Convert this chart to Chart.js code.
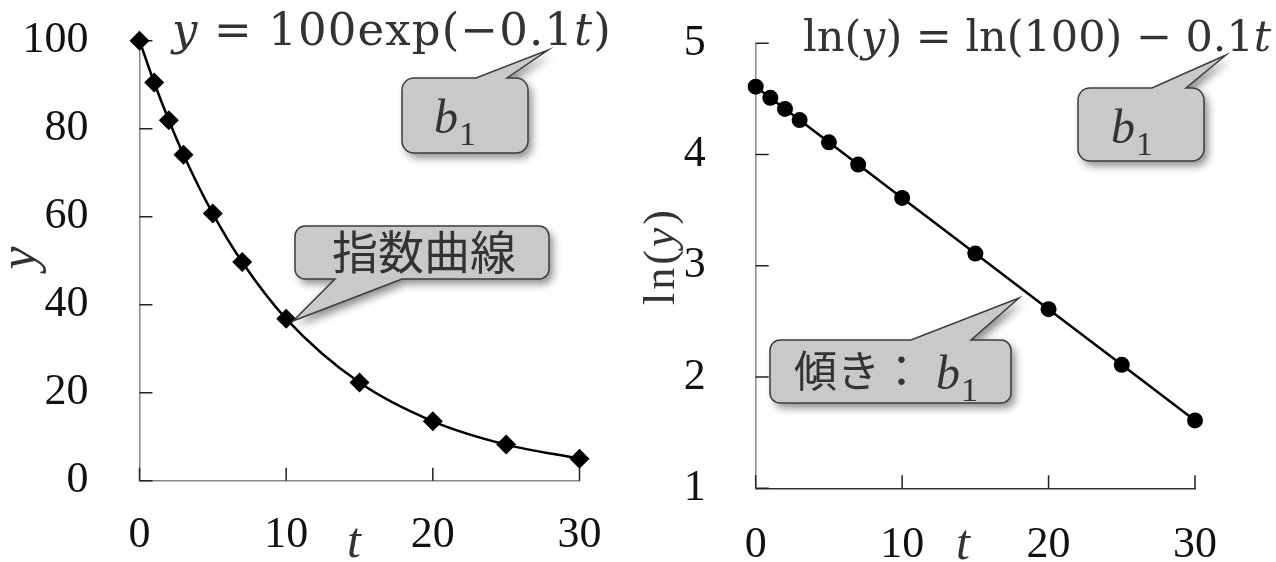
<!DOCTYPE html>
<html><head><meta charset="utf-8">
<script src="https://cdn.jsdelivr.net/npm/chart.js@4/dist/chart.umd.min.js"></script>
<style>
html,body{margin:0;padding:0;background:#fff;width:1276px;height:562px;overflow:hidden}
canvas{position:absolute;top:0}
#c1{left:0}#c2{left:640px}
</style></head><body>
<canvas id="c1" width="640" height="562"></canvas>
<canvas id="c2" width="636" height="562"></canvas>
<script>
const T = [0, 1, 2, 3, 5, 7, 10, 15, 20, 25, 30];
const Y = [100, 90.5, 81.9, 74.1, 60.7, 49.7, 36.8, 22.3, 13.5, 8.2, 5.0];
const LNY = [4.61, 4.51, 4.41, 4.31, 4.11, 3.91, 3.61, 3.11, 2.61, 2.11, 1.61];
const X_TICKS = [0, 10, 20, 30];
const Y_TICKS_LEFT = [0, 20, 40, 60, 80, 100];
const Y_TICKS_RIGHT = [1, 2, 3, 4, 5];
const TITLE_LEFT = [{t:'y', i:true}, {t:' = 100exp(\u22120.1'}, {t:'t', i:true}, {t:')'}];
const TITLE_RIGHT = [{t:'ln('}, {t:'y', i:true}, {t:') = ln(100) \u2212 0.1'}, {t:'t', i:true}];
const LABEL_CURVE = '指数曲線';
const LABEL_SLOPE = '傾き：';

const SERIF = '"Liberation Serif", "Times New Roman", serif';
const MATH = '"DejaVu Serif", "Liberation Serif", serif';
const CJK = '"Noto Sans CJK JP", "Noto Sans", sans-serif';

function rich(ctx, parts, x, y, size, width, color, fam) {
  fam = fam || SERIF;
  ctx.save();
  ctx.fillStyle = color; ctx.textBaseline = 'alphabetic'; ctx.textAlign = 'left';
  let nat = 0, n = 0;
  ctx.letterSpacing = '0px';
  parts.forEach(p => { ctx.font = (p.i ? 'italic ' : '') + size + 'px ' + fam; nat += ctx.measureText(p.t).width; n += p.t.length; });
  const sp = width ? (width - nat) / n : 0;
  ctx.letterSpacing = sp + 'px';
  parts.forEach(p => { ctx.font = (p.i ? 'italic ' : '') + size + 'px ' + fam; ctx.fillText(p.t, x, y); x += ctx.measureText(p.t).width; });
  ctx.restore();
}

function callout(ctx, c) {
  const {x, y, w, h, r} = c;
  ctx.beginPath();
  ctx.moveTo(x + r, y);
  if (c.side === 'top') { ctx.lineTo(c.b1, y); ctx.lineTo(c.tip[0], c.tip[1]); ctx.lineTo(c.b2, y); }
  ctx.lineTo(x + w - r, y); ctx.arcTo(x + w, y, x + w, y + r, r);
  ctx.lineTo(x + w, y + h - r); ctx.arcTo(x + w, y + h, x + w - r, y + h, r);
  if (c.side === 'bottom') { ctx.lineTo(c.b2, y + h); ctx.lineTo(c.tip[0], c.tip[1]); ctx.lineTo(c.b1, y + h); }
  ctx.lineTo(x + r, y + h); ctx.arcTo(x, y + h, x, y + h - r, r);
  ctx.lineTo(x, y + r); ctx.arcTo(x, y, x + r, y, r);
  ctx.closePath();
  ctx.save();
  ctx.shadowColor = 'rgba(0,0,0,0.45)'; ctx.shadowBlur = 8; ctx.shadowOffsetX = 4; ctx.shadowOffsetY = 5;
  ctx.fillStyle = '#c9c9c9'; ctx.fill();
  ctx.restore();
  ctx.lineWidth = 1.5; ctx.strokeStyle = '#3c3c3c'; ctx.stroke();
}

function b1(ctx, x, base, subBase, size) {
  ctx.save();
  ctx.fillStyle = '#333'; ctx.textAlign = 'left'; ctx.textBaseline = 'alphabetic';
  ctx.font = 'italic ' + size + 'px ' + SERIF;
  ctx.fillText('b', x, base);
  const w = ctx.measureText('b').width;
  ctx.font = Math.round(size * 0.7) + 'px ' + SERIF;
  ctx.fillText('1', x + w + 1, subBase);
  ctx.restore();
}

function italicText(ctx, s, x, y, size, rot) {
  ctx.save();
  ctx.fillStyle = '#333'; ctx.textAlign = 'center'; ctx.textBaseline = 'alphabetic';
  ctx.font = 'italic ' + size + 'px ' + SERIF;
  ctx.translate(x, y); if (rot) ctx.rotate(rot);
  ctx.fillText(s, 0, 0);
  ctx.restore();
}

function decoPlugin(cfg) {
  return {
    id: 'deco' + cfg.id,
    beforeDatasetsDraw(chart) {
      const ctx = chart.ctx, xs = chart.scales.x, ys = chart.scales.y;
      ctx.save();
      ctx.strokeStyle = '#222'; ctx.lineWidth = 1.5;
      ctx.beginPath();
      cfg.yTicks.forEach(v => { const p = ys.getPixelForValue(v); ctx.moveTo(xs.left, p); ctx.lineTo(xs.left + 13, p); });
      X_TICKS.forEach(v => { const p = xs.getPixelForValue(v); ctx.moveTo(p, ys.bottom); ctx.lineTo(p, ys.bottom - 13); });
      ctx.stroke();
      ctx.restore();
    },
    afterDraw(chart) {
      const ctx = chart.ctx;
      ctx.save();
      ctx.translate(-cfg.left, 0);
      cfg.draw(ctx);
      ctx.restore();
    }
  };
}

function makeChart(id, data, yTicks, yMin, yMax, area, style, deco) {
  const W = area.canvasW;
  return new Chart(document.getElementById(id), {
    type: 'line',
    data: { datasets: [{
      data: T.map((t, i) => ({x: t, y: data[i]})),
      borderColor: '#000', borderWidth: 2.5,
      pointStyle: style.point, pointRadius: style.radius, pointHoverRadius: style.radius,
      pointBackgroundColor: '#000', pointBorderColor: '#000', pointBorderWidth: 0,
      cubicInterpolationMode: style.smooth ? 'monotone' : 'default', tension: 0,
      fill: false, clip: false
    }]},
    options: {
      responsive: false, animation: false, devicePixelRatio: 1,
      events: [],
      layout: { padding: { top: area.top, right: W - area.right, left: 0, bottom: 0 } },
      plugins: { legend: { display: false }, tooltip: { enabled: false } },
      scales: {
        x: {
          type: 'linear', min: 0, max: 30,
          afterBuildTicks: s => { s.ticks = X_TICKS.map(v => ({value: v})); },
          ticks: { font: { family: SERIF, size: 44 }, color: '#111', padding: area.xPad, maxRotation: 0 },
          grid: { display: false, drawTicks: false },
          border: { color: area.xColor, width: 1.5 },
          afterFit: s => { s.height = 562 - area.bottom; s.paddingLeft = 0; s.paddingRight = 0; }
        },
        y: {
          type: 'linear', min: yMin, max: yMax,
          afterBuildTicks: s => { s.ticks = yTicks.map(v => ({value: v})); },
          ticks: { font: { family: SERIF, size: 44 }, color: '#111', padding: area.yPad },
          grid: { display: false, drawTicks: false },
          border: { color: area.yColor, width: 1.5 },
          afterFit: s => { s.width = area.left; s.paddingTop = 0; s.paddingBottom = 0; }
        }
      }
    },
    plugins: [deco]
  });
}

// Left chart
makeChart('c1', Y, Y_TICKS_LEFT, 0, 100,
  { canvasW: 640, left: 139.5, right: 579.5, top: 40.7, bottom: 480.7, xPad: 28, yPad: 51, xColor: '#888', yColor: '#888' },
  { point: 'rectRot', radius: 10, smooth: true },
  decoPlugin({ id: 1, left: 0, yTicks: Y_TICKS_LEFT, draw(ctx) {
    rich(ctx, TITLE_LEFT, 172, 45, 45, 440, '#333', MATH);
    italicText(ctx, 'y', 35, 258, 52, -Math.PI / 2);
    italicText(ctx, 't', 354, 557, 50, 0);
    callout(ctx, { x: 402, y: 78, w: 126, h: 75, r: 12, side: 'top', b1: 476, b2: 507, tip: [548, 50] });
    b1(ctx, 434, 133, 145, 48);
    callout(ctx, { x: 295, y: 226, w: 254, h: 53, r: 10, side: 'bottom', b1: 335, b2: 402, tip: [293, 321] });
    ctx.save(); ctx.fillStyle = '#333'; ctx.font = '46px ' + CJK; ctx.textAlign = 'center'; ctx.textBaseline = 'middle';
    ctx.fillText(LABEL_CURVE, 424, 252); ctx.restore();
  }}));

// Right chart
makeChart('c2', LNY, Y_TICKS_RIGHT, 1, 5,
  { canvasW: 636, left: 115.7, right: 555, top: 43.3, bottom: 488.3, xPad: 31, yPad: 50, xColor: '#333', yColor: '#888' },
  { point: 'circle', radius: 8, smooth: false },
  decoPlugin({ id: 2, left: 640, yTicks: Y_TICKS_RIGHT, draw(ctx) {
    rich(ctx, TITLE_RIGHT, 803, 51, 43, 468, '#333', MATH);
    ctx.save(); ctx.translate(674, 256); ctx.rotate(-Math.PI / 2);
    rich(ctx, [{t:'ln('}, {t:'y', i:true}, {t:')'}], -49, 0, 44, 98, '#333');
    ctx.restore();
    italicText(ctx, 't', 963, 559, 50, 0);
    callout(ctx, { x: 1078, y: 88, w: 126, h: 73, r: 12, side: 'top', b1: 1152, b2: 1186, tip: [1226, 55] });
    b1(ctx, 1111, 143, 155, 48);
    callout(ctx, { x: 770, y: 340, w: 241, h: 63, r: 10, side: 'top', b1: 911, b2: 971, tip: [1019, 298] });
    ctx.save(); ctx.fillStyle = '#333'; ctx.font = '43px ' + CJK; ctx.textAlign = 'left'; ctx.textBaseline = 'alphabetic';
    ctx.fillText(LABEL_SLOPE, 794, 387); ctx.restore();
    b1(ctx, 936, 389, 401, 48);
  }}));
</script>
</body></html>
